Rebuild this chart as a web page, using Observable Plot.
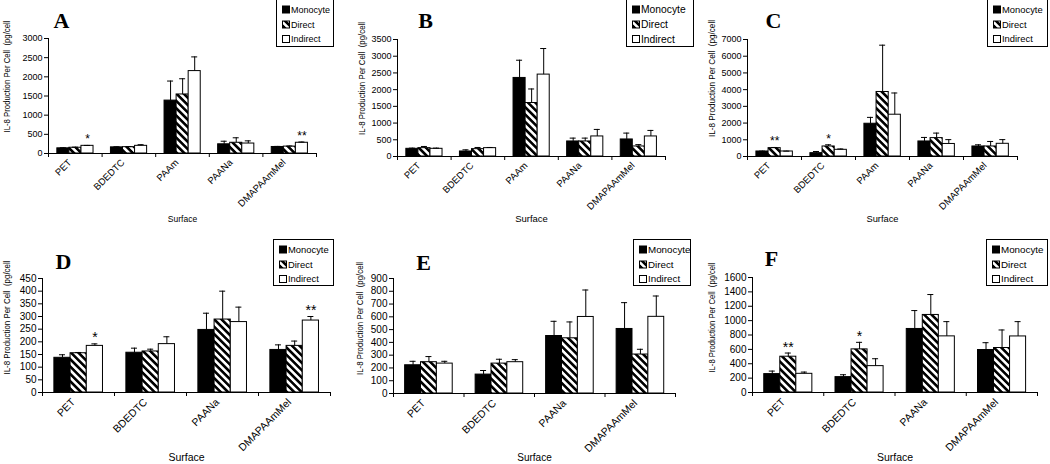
<!DOCTYPE html>
<html><head><meta charset="utf-8">
<script src="https://cdn.jsdelivr.net/npm/d3@7"></script>
<script src="https://cdn.jsdelivr.net/npm/@observablehq/plot@0.6"></script>
<style>
body{margin:0;background:#fff;}
#wrap{position:relative;width:1050px;height:464px;overflow:hidden;background:#fff;font-family:"Liberation Sans",Arial,sans-serif;}
.panel{position:absolute;}
.legend{position:absolute;border:1px solid #000;box-sizing:border-box;background:#fff;}
.xl{position:absolute;width:0;height:0;transform:rotate(-45deg);transform-origin:0 0;}
.xl span{position:absolute;right:0;top:-0.6em;line-height:1.2em;white-space:nowrap;color:#000;font-family:"Liberation Sans",Arial,sans-serif;}
</style></head><body>
<svg width="0" height="0" style="position:absolute"><defs>
<pattern id="hatch" patternUnits="userSpaceOnUse" width="5.2" height="5.2" patternTransform="rotate(-45)">
<rect width="5.2" height="5.2" fill="#fff"/><rect width="2.6" height="5.2" fill="#000"/></pattern></defs></svg>
<div id="wrap"></div>
<script>
// ---------- data ----------
const series = ["Monocyte", "Direct", "Indirect"];
const surfaces5 = ["PET", "BDEDTC", "PAAm", "PAANa", "DMAPAAmMel"];
const surfaces4 = ["PET", "BDEDTC", "PAANa", "DMAPAAmMel"];
const yLabel = "IL-8 Production Per Cell\u00a0 (pg/cell";
const xLabel = "Surface";

// mean values per series (Monocyte, Direct, Indirect), one entry per surface
const meanA = [[135, 160, 1380, 240, 170], [150, 165, 1540, 280, 180], [200, 200, 2150, 260, 280]];
const sdA   = [[15, 15, 510, 80, 15], [15, 15, 410, 130, 15], [10, 30, 370, 70, 20]];
const meanB = [[230, 150, 2350, 450, 510], [250, 220, 1600, 450, 300], [230, 250, 2450, 600, 600]];
const sdB   = [[20, 50, 530, 100, 190], [50, 50, 420, 100, 55], [20, 20, 780, 210, 180]];
const meanC = [[300, 200, 1960, 900, 600], [500, 600, 3860, 1100, 600], [300, 400, 2500, 750, 760]];
const sdC   = [[20, 100, 380, 240, 100], [40, 100, 2800, 300, 300], [20, 50, 1300, 260, 250]];
const meanD = [[137, 157, 247, 168], [155, 162, 288, 184], [184, 191, 278, 284]];
const sdD   = [[12, 18, 66, 20], [3, 9, 112, 19], [8, 29, 59, 16]];
const meanE = [[221, 148, 450, 505], [245, 234, 432, 305], [234, 245, 599, 600]];
const sdE   = [[31, 32, 115, 206], [44, 34, 128, 41], [18, 20, 211, 163]];
const meanF = [[256, 214, 884, 591], [498, 600, 1079, 619], [260, 367, 781, 780]];
const sdF   = [[42, 33, 256, 102], [51, 98, 284, 251], [24, 103, 205, 206]];

const starsA = [{surface: "PET", series: "Indirect", label: "*"}, {surface: "DMAPAAmMel", series: "Indirect", label: "**"}];
const starsB = [];
const starsC = [{surface: "PET", series: "Direct", label: "**"}, {surface: "BDEDTC", series: "Direct", label: "*"}];
const starsD = [{surface: "PET", series: "Indirect", label: "*"}, {surface: "DMAPAAmMel", series: "Indirect", label: "**"}];
const starsE = [];
const starsF = [{surface: "PET", series: "Direct", label: "**"}, {surface: "BDEDTC", series: "Direct", label: "*"}];

const yTicksA = d3.range(0, 3001, 500);
const yTicksB = d3.range(0, 3501, 500);
const yTicksC = d3.range(0, 7001, 1000);
const yTicksD = d3.range(0, 451, 50);
const yTicksE = d3.range(0, 901, 100);
const yTicksF = d3.range(0, 1601, 200);

// ---------- layout (styles only) ----------
const panels = [
  {letter: "A", surfaces: surfaces5, mean: meanA, sd: sdA, stars: starsA, yTicks: yTicksA,
   left: 0, top: 0, m: [38, 34, 79, 48], fs: 9, sfs: 8.5, starFs: 12,
   letterPos: [61, 27], ylab: [7, 76, 112], surfY: 221,
   lg: {x: 276, y: -1, w: 58, h: 48, fs: 9}},
  {letter: "B", surfaces: surfaces5, mean: meanB, sd: sdB, stars: starsB, yTicks: yTicksB,
   left: 350, top: 0, m: [39, 35, 76, 47], fs: 9, sfs: 9.5, starFs: 12,
   letterPos: [75, 27], ylab: [12, 78, 113], surfY: 221,
   lg: {x: 626, y: -1, w: 68, h: 48, fs: 10.3}},
  {letter: "C", surfaces: surfaces5, mean: meanC, sd: sdC, stars: starsC, yTicks: yTicksC,
   left: 700, top: 0, m: [39, 33, 76, 47], fs: 9, sfs: 9.3, starFs: 12,
   letterPos: [73, 27], ylab: [12, 78, 117], surfY: 221,
   lg: {x: 987, y: -1, w: 61, h: 48, fs: 9.4}},
  {letter: "D", surfaces: surfaces4, mean: meanD, sd: sdD, stars: starsD, yTicks: yTicksD,
   left: 0, top: 232, m: [46, 20, 72, 42], fs: 10, sfs: 10.5, starFs: 14,
   letterPos: [63, 36], ylab: [7, 85, 114], surfY: 228,
   lg: {x: 273, y: 239, w: 61, h: 47, fs: 9.4}},
  {letter: "E", surfaces: surfaces4, mean: meanE, sd: sdE, stars: starsE, yTicks: yTicksE,
   left: 350, top: 232, m: [46, 25, 71, 43], fs: 10, sfs: 10, starFs: 14,
   letterPos: [73, 37], ylab: [10, 86, 113], surfY: 228,
   lg: {x: 633, y: 239, w: 58, h: 47, fs: 9.8}},
  {letter: "F", surfaces: surfaces4, mean: meanF, sd: sdF, stars: starsF, yTicks: yTicksF,
   left: 700, top: 232, m: [45, 13, 72, 52], fs: 10, sfs: 10.5, starFs: 14,
   letterPos: [71, 33], ylab: [12, 85, 110], surfY: 228,
   lg: {x: 986, y: 239, w: 62, h: 47, fs: 9.8}}
];

const W = 350, H = 232;
const fills = ["#000", "url(#hatch)", "#fff"];
const wrap = document.getElementById("wrap");

for (const p of panels) {
  const n = p.surfaces.length;
  const [mT, mR, mB, mL] = p.m;
  const yMax = p.yTicks[p.yTicks.length - 1];
  const rows = series.flatMap((s, j) => p.surfaces.map((c, i) => ({
    surface: c, i, series: s, j, value: p.mean[j][i], top: p.mean[j][i] + p.sd[j][i]
  })));
  const cats = p.surfaces.map((c, i) => ({surface: c, i}));
  const ppu = (W - mL - mR) / n;
  const cap = 3 / ppu;
  const off = 0.165, bw = 0.225;
  const x1 = d => d.i + off + d.j * bw;
  const x2 = d => d.i + off + (d.j + 1) * bw;
  const xc = d => d.i + off + (d.j + 0.5) * bw;
  const starRows = p.stars.map(s => ({...rows.find(r => r.surface === s.surface && r.series === s.series), label: s.label}));
  const frameMidY = (mT + H - mB) / 2;

  const chart = Plot.plot({
    width: W, height: H,
    marginTop: mT, marginRight: mR, marginBottom: mB, marginLeft: mL,
    x: {domain: [0, n], axis: null},
    y: {domain: [0, yMax], axis: null},
    color: {domain: series, range: fills},
    style: {fontFamily: "'Liberation Sans', Arial, sans-serif", fontSize: p.fs + "px", background: "transparent", color: "#000", overflow: "visible"},
    marks: [
      Plot.rectY(rows, {x1, x2, y: "value", fill: "series", stroke: "#000", strokeWidth: 1}),
      Plot.ruleX(rows, {x: xc, y1: "value", y2: "top", stroke: "#000", strokeWidth: 1}),
      Plot.ruleY(rows, {y: "top", x1: d => xc(d) - cap, x2: d => xc(d) + cap, stroke: "#000", strokeWidth: 1}),
      Plot.ruleX([0], {stroke: "#000"}),
      Plot.ruleY([0], {stroke: "#000"}),
      Plot.axisY({ticks: p.yTicks, tickSize: 4, tickPadding: 2, label: null, tickFormat: d => String(d), fontSize: p.fs}),
      Plot.ruleX(d3.range(n + 1), {x: d => d, y1: () => 0, y2: () => 0, insetBottom: -4, stroke: "#000"}),
      Plot.text(starRows, {x: xc, y: "top", text: "label", dy: -6, fontSize: p.starFs}),
      Plot.text([xLabel], {frameAnchor: "bottom", dy: p.surfY - (H - mB), fontSize: p.sfs}),
      Plot.text([yLabel], {frameAnchor: "left", textAnchor: "middle", rotate: -90, dx: p.ylab[0] - mL, dy: p.ylab[1] - frameMidY, fontSize: 8.5}),
      Plot.text([p.letter], {frameAnchor: "top-left", textAnchor: "middle", lineAnchor: "bottom",
        dx: p.letterPos[0] - mL, dy: p.letterPos[1] - mT, fontSize: 22, fontWeight: "bold",
        fontFamily: "'Liberation Serif', 'Times New Roman', serif"})
    ]
  });
  chart.classList.add("panel");
  chart.style.left = p.left + "px";
  chart.style.top = p.top + "px";
  for (const t of chart.querySelectorAll("text")) {
    if (t.textContent === yLabel) {
      t.setAttribute("textLength", p.ylab[2]);
      t.setAttribute("lengthAdjust", "spacingAndGlyphs");
    }
  }
  wrap.appendChild(chart);

  // rotated category labels, placed with the chart's own scales
  const sx = chart.scale("x"), sy = chart.scale("y");
  for (const c of cats) {
    const d = document.createElement("div");
    d.className = "xl";
    d.style.left = (p.left + sx.apply(c.i + 0.5) - 5) + "px";
    d.style.top = (p.top + sy.apply(0) + 8) + "px";
    const s = document.createElement("span");
    s.style.fontSize = (p.fs + 0.5) + "px";
    s.textContent = c.surface;
    d.appendChild(s);
    wrap.appendChild(d);
  }

  // legend
  const lg = p.lg;
  const div = document.createElement("div");
  div.className = "legend";
  div.style.cssText += `left:${lg.x}px;top:${lg.y}px;width:${lg.w}px;height:${lg.h}px;`;
  const rowY = [9.5, 24.5, 39];
  let svg = `<svg width="${lg.w - 2}" height="${lg.h - 2}" style="display:block">`;
  series.forEach((s, j) => {
    svg += `<rect x="5.5" y="${rowY[j] - 3.5}" width="7" height="7" fill="${fills[j]}" stroke="#000" stroke-width="1"/>`;
    svg += `<text x="14" y="${rowY[j]}" dy="0.35em" font-family="'Liberation Sans', Arial, sans-serif" font-size="${lg.fs}">${s}</text>`;
  });
  svg += `</svg>`;
  div.innerHTML = svg;
  wrap.appendChild(div);
}
</script>
</body></html>
